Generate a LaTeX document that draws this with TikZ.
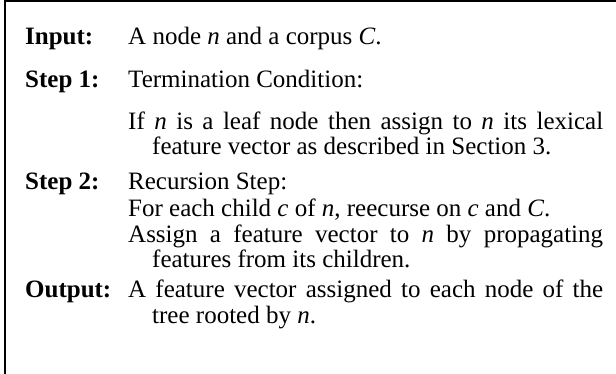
\documentclass[tikz,border=0pt]{standalone}
\usepackage{fontspec}
\setmainfont{Liberation Serif}
\newcommand{\var}[1]{\textit{#1}}
% justified column, lines after the first indented
\newcommand{\steppar}[1]{\parbox[t]{475pt}{\fontsize{25}{25}\selectfont
  \hangindent=24pt\hangafter=1 #1}}
\begin{document}
\begin{tikzpicture}[x=1pt,y=1pt,
    steplabel/.style={anchor=base west,inner sep=0pt,
      font=\fontsize{25}{25}\selectfont\bfseries},
    steptext/.style={anchor=base west,inner sep=0pt}]
      \useasboundingbox (0,0) rectangle (616,-374) ;
      % frame: only top and left edges are inside the page
      \draw[line width=2pt] (616,-1)--(5,-1)--(5,-374) ;
      \node[steplabel] (inLabel) at (25,-45) {Input:} ;
      \node[steptext] (inText) at (128,-45) {\steppar{A node \var{n} and a corpus \var{C}.}} ;
      \node[steplabel] (oneLabel) at (25,-88) {Step 1:} ;
      \node[steptext] (oneHead) at (128,-88) {\steppar{Termination Condition:}} ;
      \node[steptext] (oneBody) at (128,-130) %
      {\steppar{If \var{n} is a leaf node then assign to \var{n} its lexical\linebreak
       feature vector as described in Section 3.}} ;
      \node[steplabel] (twoLabel) at (25,-190) {Step 2:} ;
      \node[steptext] (twoHead) at (128,-190) {\steppar{Recursion Step:}} ;
      \node[steptext] (twoChild) at (128,-217) %
      {\steppar{For each child \var{c} of \var{n}, reecurse on \var{c} and \var{C}.}} ;
      \node[steptext] (twoAssign) at (128,-243) %
      {\steppar{Assign a feature vector to \var{n} by propagating\linebreak
       features from its children.}} ;
      \node[steplabel] (outLabel) at (25,-298) {Output:} ;
      \node[steptext] (outText) at (128,-298) %
      {\steppar{A feature vector assigned to each node of the\linebreak
       tree rooted by \var{n}.}} ;
    \end{tikzpicture}
\end{document}
